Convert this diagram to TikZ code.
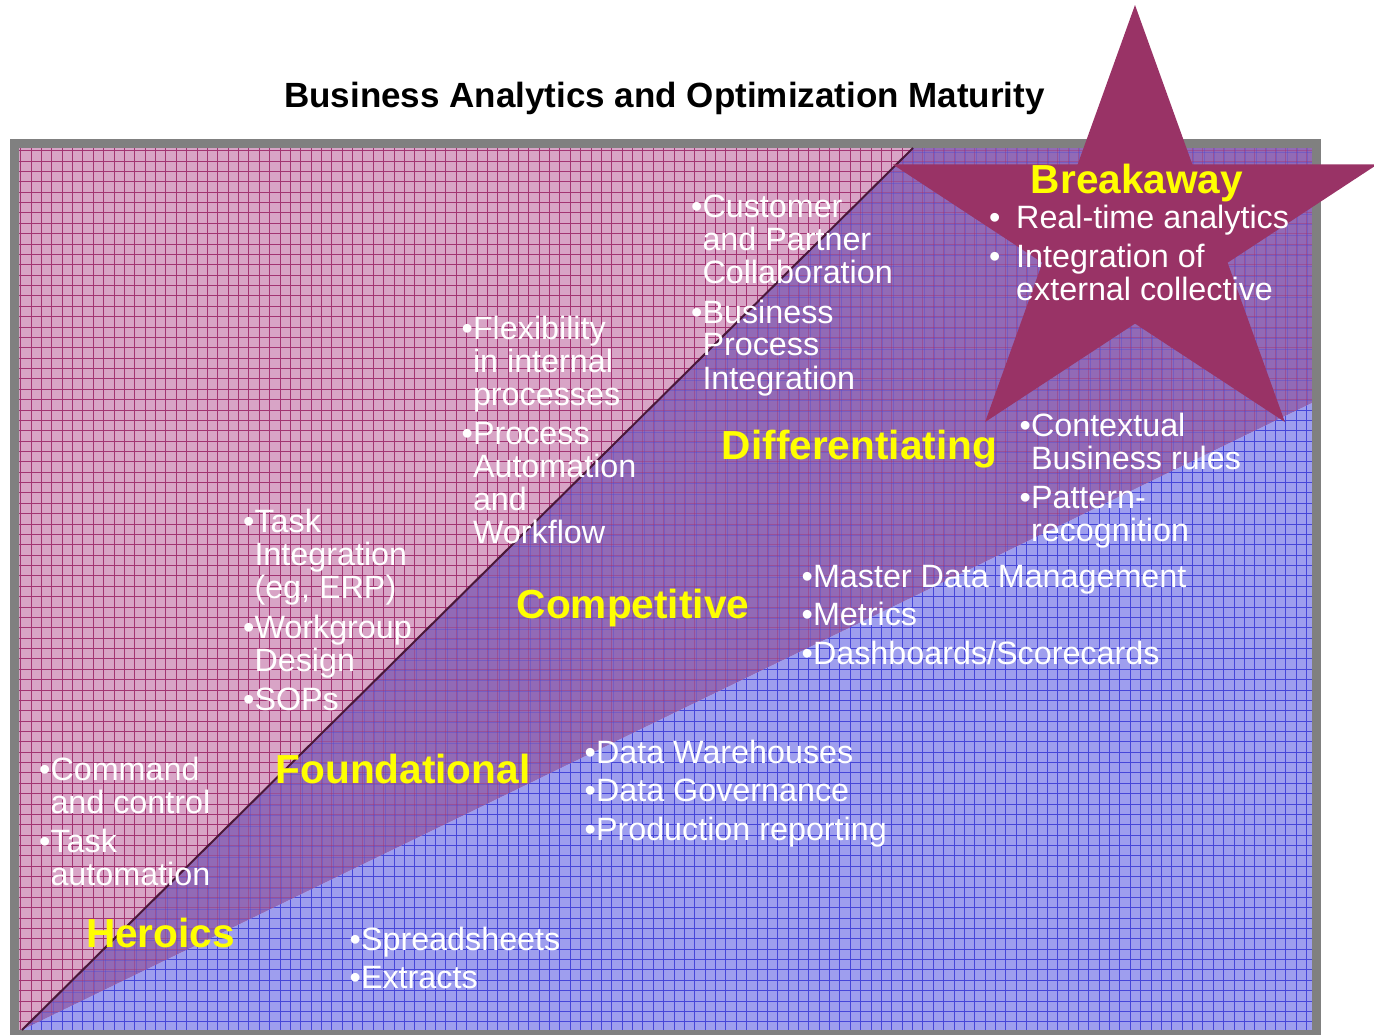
\documentclass[tikz,border=0pt]{standalone}
\usepackage{fontspec}
\setmainfont{Liberation Sans}
\definecolor{framegray}{RGB}{128,128,128}
\definecolor{pinkfill}{RGB}{216,164,198}
\definecolor{pinkline}{RGB}{162,52,114}
\definecolor{purplefill}{RGB}{146,106,182}
\definecolor{bluefill}{RGB}{158,158,238}
\definecolor{blueline}{RGB}{70,70,216}
\definecolor{diagline}{RGB}{74,24,56}
\definecolor{starfill}{RGB}{153,51,102}
\definecolor{stageyellow}{RGB}{255,255,0}
\newcommand{\hb}{\hphantom{•}}
\begin{document}
\begin{tikzpicture}[x=1pt,y=-1pt,
  item/.style={text=white, anchor=base west, inner sep=0pt,
    font=\fontsize{32.3}{32.5}\selectfont},
  stage/.style={text=stageyellow, anchor=base, inner sep=0pt,
    font=\fontsize{40.6}{42}\selectfont\bfseries},
  pgrid/.style={draw=pinkline, line width=0.9pt},
  bgrid/.style={draw=blueline, line width=0.9pt}]
\useasboundingbox (0,0) rectangle (1374,1034);

% outer frame and pink base with its grid
\fill[framegray] (10,139) rectangle (1321,1040);
\coordinate (tl) at (19,148);
\coordinate (br) at (1312,1030);
\fill[pinkfill] (tl) rectangle (br);
\begin{scope}
  \clip (tl) rectangle (br);
  \foreach \i in {0,...,124} \draw[pgrid] ({20.7+10.37*\i},148) -- ({20.7+10.37*\i},1030);
  \foreach \j in {0,...,84} \draw[pgrid] (19,{150.7+10.37*\j}) -- (1312,{150.7+10.37*\j});
\end{scope}

% corner points of the maturity bands
\coordinate (origin) at (22,1030);
\coordinate (diagtop) at (913,148);
\coordinate (trc) at (1312,148);
\coordinate (blueright) at (1312,403);
\coordinate (brc) at (1312,1030);

% purple band between the diagonal and the blue wedge
\begin{scope}
  \clip (origin) -- (diagtop) -- (trc) -- (blueright) -- cycle;
  \fill[purplefill] (tl) rectangle (br);
  \foreach \i in {0,...,124} \draw[pgrid, draw opacity=0.45] ({20.7+10.37*\i},148) -- ({20.7+10.37*\i},1030);
  \foreach \j in {0,...,84} \draw[pgrid, draw opacity=0.45] (19,{150.7+10.37*\j}) -- (1312,{150.7+10.37*\j});
  \foreach \i in {0,...,124} \draw[bgrid, draw opacity=0.35] ({22+10.37*\i},148) -- ({22+10.37*\i},1030);
  \foreach \j in {0,...,84} \draw[bgrid, draw opacity=0.35] (19,{152+10.37*\j}) -- (1312,{152+10.37*\j});
\end{scope}

% blue wedge
\begin{scope}
  \clip (origin) -- (blueright) -- (brc) -- cycle;
  \fill[bluefill] (tl) rectangle (br);
  \foreach \i in {0,...,124} \draw[bgrid] ({20.7+10.37*\i},148) -- ({20.7+10.37*\i},1030);
  \foreach \j in {0,...,84} \draw[bgrid] (19,{150.7+10.37*\j}) -- (1312,{150.7+10.37*\j});
\end{scope}

% diagonal boundary
\draw[diagline, line width=2pt] (origin) -- (diagtop);

% star
\fill[starfill] (1135,5) -- (1192.3,164.3) -- (1377.5,164.3) -- (1227.6,262.7)
  -- (1284.9,422) -- (1135,323.6) -- (985.1,422) -- (1042.4,262.7)
  -- (892.5,164.3) -- (1077.7,164.3) -- cycle;

% title
\node[anchor=base, inner sep=0pt, font=\fontsize{35}{37}\selectfont\bfseries]
  (title) at (664.5,107) {Business Analytics and Optimization Maturity};

% stage names
\node[stage] (heroics) at (160.5,947) {Heroics};
\node[stage] (foundational) at (403,783.5) {Foundational};
\node[stage] (competitive) at (633,618.5) {Competitive};
\node[stage] (differentiating) at (859.5,459.5) {Differentiating};
\node[stage] (breakaway) at (1137,193.3) {Breakaway};

% stage characteristics
\node[item] (heroicsitems) at (39,780) {\begin{tabular}[t]{@{}l@{}}
  •Command\\ \hb and control\\[6.5pt]
  •Task\\ \hb automation\end{tabular}};
\node[item] (founditems) at (243,532.5) {\begin{tabular}[t]{@{}l@{}}
  •Task\\ \hb Integration\\ \hb (eg, ERP)\\[6.5pt]
  •Workgroup\\ \hb Design\\[6.5pt]
  •SOPs\end{tabular}};
\node[item] (compitems) at (461.5,339.5) {\begin{tabular}[t]{@{}l@{}}
  •Flexibility\\ \hb in internal\\ \hb processes\\[6.5pt]
  •Process\\ \hb Automation\\ \hb and\\ \hb Workflow\end{tabular}};
\node[item] (diffitems) at (691,217.5) {\begin{tabular}[t]{@{}l@{}}
  •Customer\\ \hb and Partner\\ \hb Collaboration\\[6.5pt]
  •Business\\ \hb Process\\ \hb Integration\end{tabular}};
\node[item] (breakitems) at (989,228.3) {\begin{tabular}[t]{@{}p{27pt}@{}l@{}}
  •&Real-time analytics\\[6pt]
  •&Integration of\\ &external collective\end{tabular}};
\node[item] (ruleitems) at (1019.5,436) {\begin{tabular}[t]{@{}l@{}}
  •Contextual\\ \hb Business rules\\[6.5pt]
  •Pattern-\\ \hb recognition\end{tabular}};
\node[item] (mdmitems) at (801.5,587) {\begin{tabular}[t]{@{}l@{}}
  •Master Data Management\\[5.5pt]
  •Metrics\\[5.5pt]
  •Dashboards/Scorecards\end{tabular}};
\node[item] (dwitems) at (584.5,763) {\begin{tabular}[t]{@{}l@{}}
  •Data Warehouses\\[6pt]
  •Data Governance\\[6pt]
  •Production reporting\end{tabular}};
\node[item] (sheetitems) at (349.5,950) {\begin{tabular}[t]{@{}l@{}}
  •Spreadsheets\\[5.5pt]
  •Extracts\end{tabular}};
\end{tikzpicture}
\end{document}
